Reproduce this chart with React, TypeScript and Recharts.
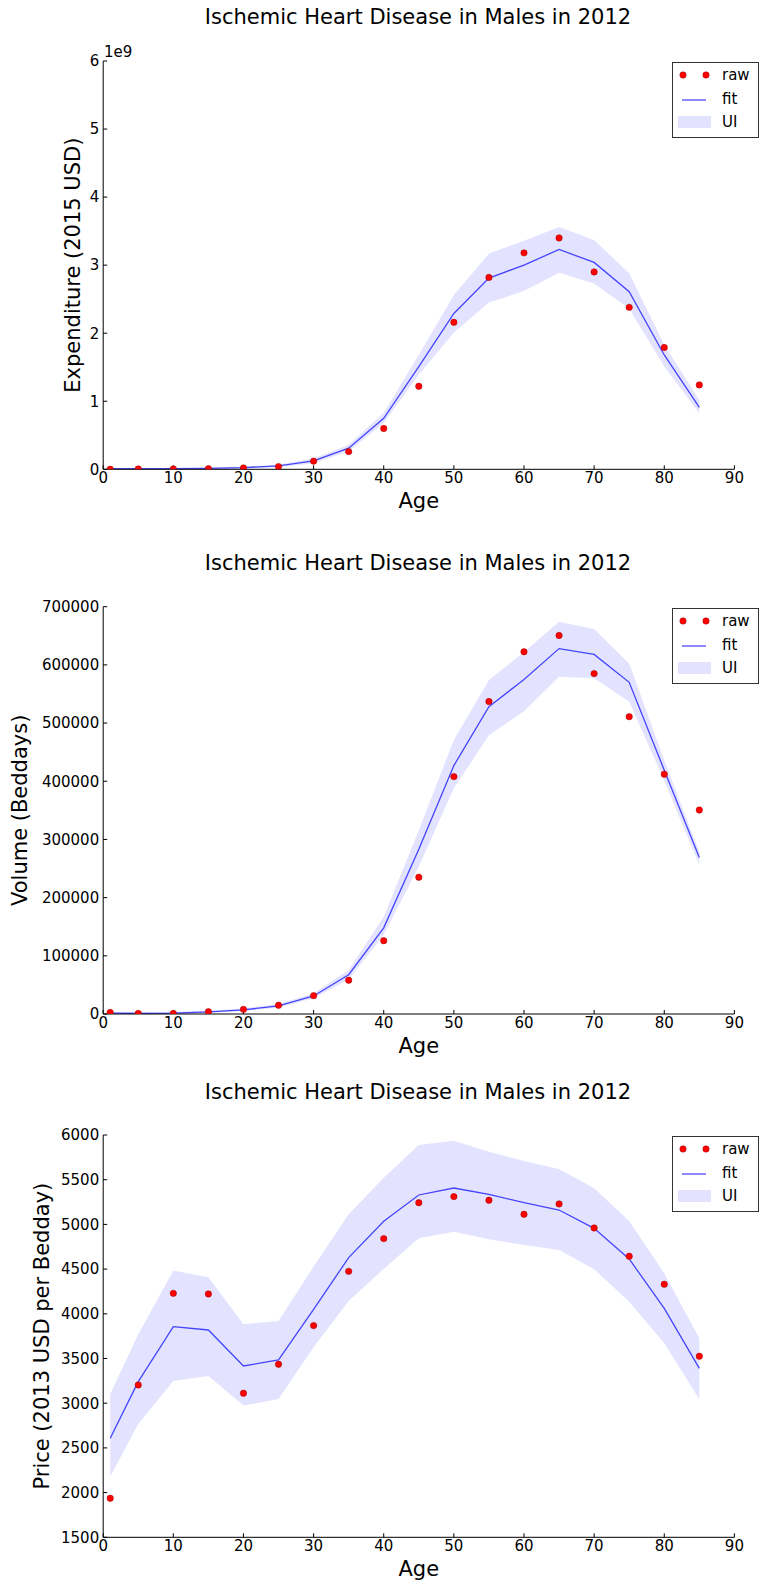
import React from "react";
import {
  ComposedChart,
  Area,
  Line,
  XAxis,
  YAxis,
  Legend,
} from "recharts";

const ages = [1, 5, 10, 15, 20, 25, 30, 35, 40, 45, 50, 55, 60, 65, 70, 75, 80, 85];
const xTicks = [0, 10, 20, 30, 40, 50, 60, 70, 80, 90];

// expenditure, in units of 1e9 (2015 USD)
const expRaw = [0.0, 0.005, 0.005, 0.01, 0.02, 0.04, 0.12, 0.26, 0.6, 1.22, 2.16, 2.82, 3.18, 3.4, 2.9, 2.38, 1.79, 1.24];
const expFit = [0.01, 0.01, 0.01, 0.015, 0.025, 0.05, 0.125, 0.31, 0.75, 1.51, 2.29, 2.81, 3.0, 3.23, 3.04, 2.61, 1.68, 0.91];
const expHi = [0.02, 0.02, 0.02, 0.025, 0.04, 0.07, 0.16, 0.36, 0.83, 1.68, 2.56, 3.17, 3.36, 3.56, 3.37, 2.88, 1.83, 1.02];
const expLo = [0.0, 0.0, 0.0, 0.005, 0.012, 0.03, 0.09, 0.26, 0.68, 1.39, 2.01, 2.45, 2.62, 2.89, 2.73, 2.36, 1.51, 0.82];
const expTicks = [0, 1, 2, 3, 4, 5, 6];

// volume (beddays)
const volRaw = [2500, 1000, 1000, 4000, 8000, 15000, 31500, 58000, 126000, 235000, 408000, 537000, 622500, 650500, 585000, 511000, 412000, 350500];
const volFit = [1500, 1000, 1500, 3500, 7000, 14000, 31000, 67500, 148000, 283000, 427000, 528000, 575000, 628000, 618000, 570000, 419000, 269000];
const volHi = [4000, 3500, 3500, 5000, 10000, 17000, 35500, 75500, 167000, 316000, 471000, 574000, 622000, 674000, 661500, 602500, 436000, 279000];
const volLo = [0, 0, 0, 1500, 5000, 11000, 27000, 59500, 136000, 253000, 388000, 479000, 520500, 579500, 577000, 536500, 401000, 256000];
const volTicks = [0, 100000, 200000, 300000, 400000, 500000, 600000, 700000];

// price (2013 USD per bedday)
const priceRaw = [1936, 3204, 4229, 4222, 3111, 3435, 3868, 4475, 4841, 5243, 5311, 5270, 5113, 5229, 4960, 4643, 4330, 3525];
const priceFit = [2607, 3241, 3856, 3819, 3416, 3484, 4050, 4628, 5035, 5329, 5407, 5336, 5243, 5161, 4956, 4613, 4061, 3390];
const priceHi = [3103, 3771, 4483, 4408, 3883, 3920, 4528, 5113, 5523, 5889, 5937, 5814, 5709, 5620, 5404, 5038, 4453, 3726];
const priceLo = [2179, 2768, 3249, 3305, 2973, 3047, 3625, 4144, 4502, 4845, 4919, 4833, 4770, 4714, 4498, 4136, 3670, 3044];
const priceTicks = [1500, 2000, 2500, 3000, 3500, 4000, 4500, 5000, 5500, 6000];

const TITLE = "Ischemic Heart Disease in Males in 2012";
const FONT = "'DejaVu Sans', sans-serif";

const buildRows = (raw: number[], fit: number[], lo: number[], hi: number[]) =>
  ages.map((age, i) => ({ age, raw: raw[i], fit: fit[i], band: [lo[i], hi[i]] }));

const LegendBox = () => (
  <div
    style={{
      width: 87,
      height: 76,
      boxSizing: "border-box",
      border: "1px solid #333",
      background: "#fff",
      position: "relative",
      fontFamily: FONT,
      fontSize: 15,
      color: "#000",
    }}
  >
    <svg width={87} height={76} style={{ position: "absolute", left: -1, top: -1 }}>
      <circle cx={11} cy={13} r={3.2} fill="#ff0000" stroke="#990000" strokeWidth={0.5} />
      <circle cx={34} cy={13} r={3.2} fill="#ff0000" stroke="#990000" strokeWidth={0.5} />
      <line x1={10} x2={34} y1={38} y2={38} stroke="#0000ff" strokeOpacity={0.7} strokeWidth={1.3} />
      <rect x={6} y={54} width={33} height={12} fill="#0000ff" fillOpacity={0.11} />
      <text x={50} y={13} dominantBaseline="central">raw</text>
      <text x={50} y={37} dominantBaseline="central">fit</text>
      <text x={50} y={60} dominantBaseline="central">UI</text>
    </svg>
  </div>
);

type PanelProps = {
  top: number;
  titleY: number;
  plotTop: number;
  plotBottom: number;
  rows: any[];
  yDomain: [number, number];
  yTicks: number[];
  yLabel: string;
  yLabelX: number;
  offsetText?: string;
};

const H = 529;

const Panel = ({ top, titleY, plotTop, plotBottom, rows, yDomain, yTicks, yLabel, yLabelX, offsetText }: PanelProps) => {
  const tickStyle = { fontFamily: FONT, fontSize: 15, fill: "#000" };
  return (
    <div style={{ position: "absolute", left: 0, top, width: 760, height: H }}>
      <div
        style={{
          position: "absolute",
          left: 0,
          top: titleY - 12,
          width: 836,
          lineHeight: "24px",
          textAlign: "center",
          fontFamily: FONT,
          fontSize: 21,
          color: "#000",
        }}
      >
        {TITLE}
      </div>
      {offsetText && (
        <div
          style={{
            position: "absolute",
            left: 104,
            top: plotTop - 17,
            fontFamily: FONT,
            fontSize: 15,
            lineHeight: "16px",
            color: "#000",
          }}
        >
          {offsetText}
        </div>
      )}
      <ComposedChart
        width={760}
        height={H}
        data={rows}
        margin={{ top: plotTop, right: 25.6, bottom: H - plotBottom - 40, left: 0 }}
      >
        <XAxis
          dataKey="age"
          type="number"
          domain={[0, 90]}
          ticks={xTicks}
          interval={0}
          height={40}
          tickSize={-4}
          tickMargin={7}
          stroke="#000"
          tick={tickStyle}
          label={(props: any) => {
            const vb = props.viewBox;
            return (
              <text
                x={vb.x + vb.width / 2}
                y={vb.y + 32}
                textAnchor="middle"
                dominantBaseline="central"
                style={{ fontFamily: FONT, fontSize: 21, fill: "#000" }}
              >
                Age
              </text>
            );
          }}
        />
        <YAxis
          type="number"
          domain={yDomain}
          ticks={yTicks}
          interval={0}
          width={103.2}
          tickSize={-4}
          tickMargin={8}
          stroke="#000"
          tick={tickStyle}
          allowDataOverflow
          label={(props: any) => {
            const vb = props.viewBox;
            const cy = vb.y + vb.height / 2;
            return (
              <text
                x={yLabelX}
                y={cy}
                transform={`rotate(-90, ${yLabelX}, ${cy})`}
                textAnchor="middle"
                dominantBaseline="central"
                style={{ fontFamily: FONT, fontSize: 21, fill: "#000" }}
              >
                {yLabel}
              </text>
            );
          }}
        />
        <Area
          dataKey="band"
          type="linear"
          stroke="none"
          fill="#0000ff"
          fillOpacity={0.11}
          isAnimationActive={false}
          legendType="none"
        />
        <Line
          dataKey="fit"
          type="linear"
          stroke="#0000ff"
          strokeOpacity={0.7}
          strokeWidth={1.3}
          dot={false}
          isAnimationActive={false}
          legendType="none"
        />
        <Line
          dataKey="raw"
          type="linear"
          stroke="none"
          dot={{ r: 3.2, fill: "#ff0000", stroke: "#990000", strokeWidth: 0.5 }}
          activeDot={false}
          isAnimationActive={false}
          legendType="none"
        />
        <Legend
          layout="vertical"
          align="center"
          verticalAlign="middle"
          content={() => <LegendBox />}
          wrapperStyle={{ position: "absolute", left: 672, top: plotTop + 1, width: 87, height: 76 }}
        />
      </ComposedChart>
    </div>
  );
};

export default function App() {
  return (
    <div style={{ position: "absolute", left: 0, top: 0, width: 760, height: 1589, background: "#fff" }}>
      <Panel
        top={0}
        titleY={17}
        plotTop={61}
        plotBottom={469.3}
        rows={buildRows(expRaw, expFit, expLo, expHi)}
        yDomain={[0, 6]}
        yTicks={expTicks}
        yLabel="Expenditure (2015 USD)"
        yLabelX={72.7}
        offsetText="1e9"
      />
      <Panel
        top={530}
        titleY={33}
        plotTop={76.7}
        plotBottom={484}
        rows={buildRows(volRaw, volFit, volLo, volHi)}
        yDomain={[0, 700000]}
        yTicks={volTicks}
        yLabel="Volume (Beddays)"
        yLabelX={20.4}
      />
      <Panel
        top={1060}
        titleY={31.7}
        plotTop={75}
        plotBottom={477.3}
        rows={buildRows(priceRaw, priceFit, priceLo, priceHi)}
        yDomain={[1500, 6000]}
        yTicks={priceTicks}
        yLabel="Price (2013 USD per Bedday)"
        yLabelX={42}
      />
    </div>
  );
}
